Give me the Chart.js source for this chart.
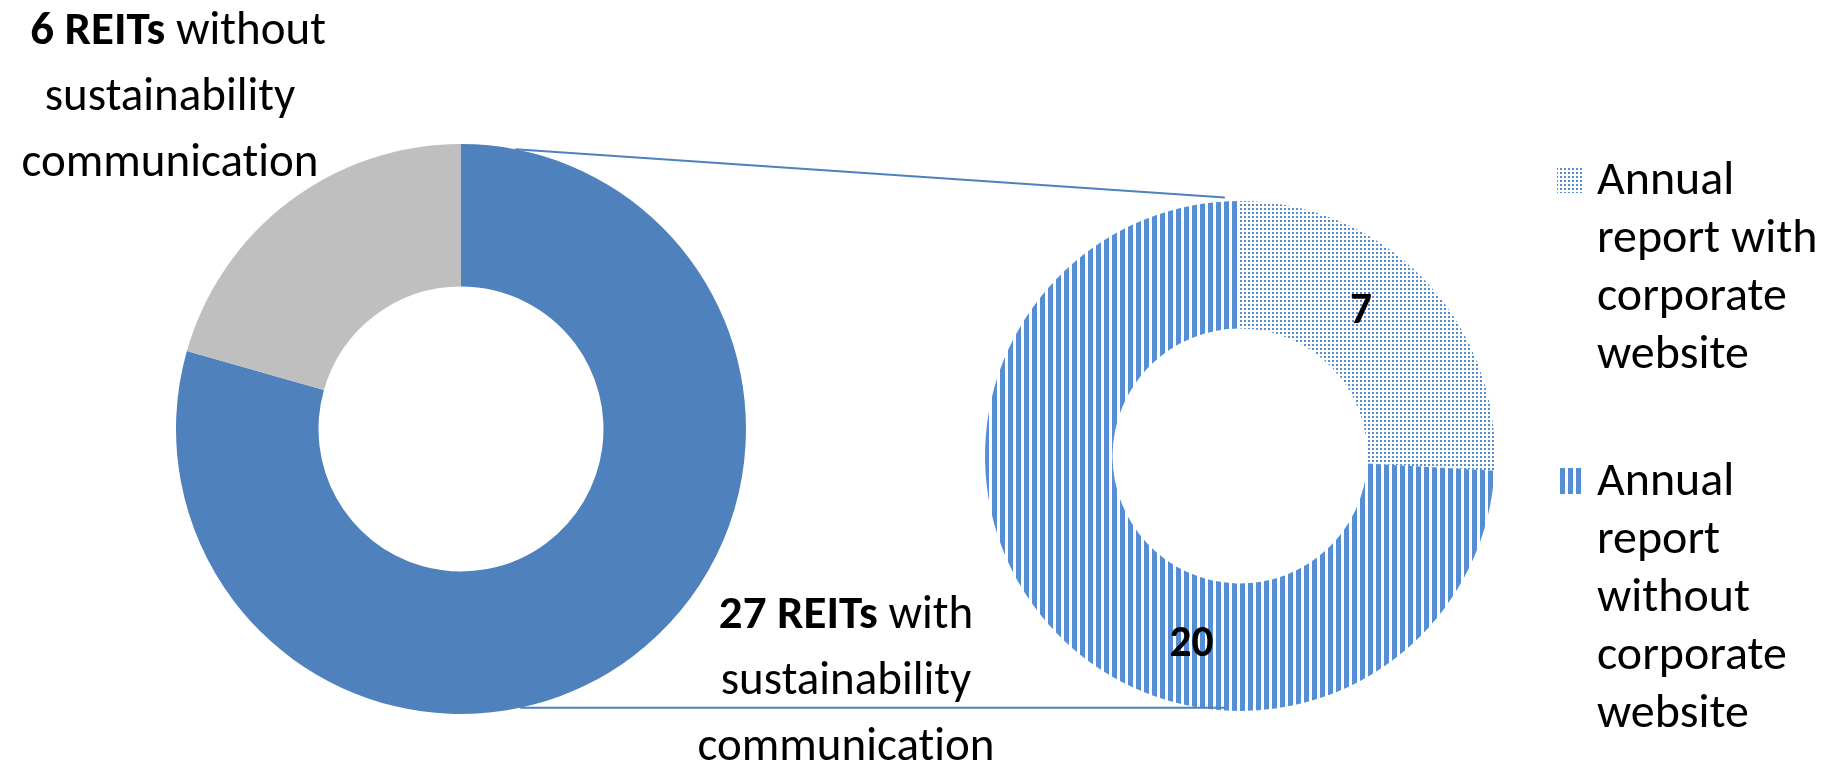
<!DOCTYPE html>
<html>
<head>
<meta charset="utf-8">
<script src="https://cdn.jsdelivr.net/npm/chart.js@4.4.1/dist/chart.umd.min.js"></script>
<style>
html,body{margin:0;padding:0;background:#ffffff;}
#wrap{position:relative;width:1832px;height:767px;overflow:hidden;}
#wrap canvas{position:absolute;left:0;top:0;}
</style>
</head>
<body>
<div id="wrap">
  <canvas id="overview" width="1832" height="767"></canvas>
  <canvas id="detail" width="1832" height="767"></canvas>
</div>
<script>
// ---------------- data ----------------
const overviewLabels = ['REITs with sustainability communication', 'REITs without sustainability communication'];
// slice sizes as drawn in the picture (grey slice spans ~74 degrees)
const overviewValues = [27, 7];
const overviewCalloutBold = ['27 REITs', '6 REITs'];
const overviewCalloutRest = [' with', ' without'];
const overviewCalloutLines = [['sustainability', 'communication'], ['sustainability', 'communication']];

const detailLabels = ['Annual report with corporate website', 'Annual report without corporate website'];
const detailValues = [7, 20];
const detailLegendLines = [
  ['Annual', 'report with', 'corporate', 'website'],
  ['Annual', 'report', 'without', 'corporate', 'website']
];

// ---------------- styling ----------------
const FAMILY = "Carlito, Calibri, Lato, 'Open Sans', sans-serif";
const BLUE = '#4F81BD';
const GREY = '#BFBFBF';
const PATTERN_BLUE = '#558ED5';

function noLig(s) { return s.replace(/t(?=i)/g, 't\u200C').replace(/f(?=[ilf])/g, 'f\u200C'); }

function makeDots() {
  const c = document.createElement('canvas'); c.width = 4; c.height = 4;
  const g = c.getContext('2d');
  g.fillStyle = '#ffffff'; g.fillRect(0, 0, 4, 4);
  g.fillStyle = PATTERN_BLUE; g.fillRect(0, 0, 2, 2);
  return g.createPattern(c, 'repeat');
}
function makeStripes() {
  const c = document.createElement('canvas'); c.width = 8; c.height = 8;
  const g = c.getContext('2d');
  g.fillStyle = '#ffffff'; g.fillRect(0, 0, 8, 8);
  g.fillStyle = PATTERN_BLUE; g.fillRect(0, 0, 5, 8);
  return g.createPattern(c, 'repeat');
}
const detailFills = [makeDots(), makeStripes()];

function fitSize(ctx, text, weight, target) {
  ctx.font = weight + ' 100px ' + FAMILY;
  return 100 * target / ctx.measureText(noLig(text)).width;
}

const baseOpts = {
  responsive: false,
  animation: false,
  events: [],
  cutout: '50%',
  plugins: { legend: { display: false }, tooltip: { enabled: false } }
};

const overviewChart = new Chart(document.getElementById('overview'), {
  type: 'doughnut',
  data: {
    labels: overviewLabels,
    datasets: [{ data: overviewValues, backgroundColor: [BLUE, GREY], borderWidth: 0 }]
  },
  options: Object.assign({}, baseOpts, {
    layout: { padding: { left: 176, right: 1086, top: 144, bottom: 53 } }
  })
});

const annotations = {
  id: 'annotations',
  afterDatasetsDraw(chart) {
    const ctx = chart.ctx;
    const ov = overviewChart.getDatasetMeta(0).data[0];
    const dt = chart.getDatasetMeta(0).data;
    const d0 = dt[0];
    ctx.save();

    // connector lines (overview outer edge -> detail doughnut)
    const ang = (deg) => deg * Math.PI / 180;
    const R1 = ov.outerRadius, R2 = d0.outerRadius;
    const p1 = [ov.x + R1 * Math.sin(ang(11)), ov.y - R1 * Math.cos(ang(11))];
    const p2 = [ov.x + R1 * Math.sin(ang(168)), ov.y - R1 * Math.cos(ang(168))];
    const q1 = [d0.x + R2 * Math.sin(ang(-3.4)), d0.y - R2 * Math.cos(ang(-3.4)) - 4];
    const q2 = [d0.x + R2 * Math.sin(ang(183.4)), p2[1]];
    ctx.strokeStyle = BLUE; ctx.lineWidth = 2;
    ctx.beginPath(); ctx.moveTo(p1[0], p1[1]); ctx.lineTo(q1[0], q1[1]); ctx.stroke();
    ctx.beginPath(); ctx.moveTo(p2[0], p2[1]); ctx.lineTo(q2[0], q2[1]); ctx.stroke();

    // data labels of the detail doughnut
    const valSize = fitSize(ctx, '20', 'bold', 44);
    ctx.font = 'bold ' + valSize + 'px ' + FAMILY;
    ctx.fillStyle = '#000';
    ctx.textAlign = 'center';
    ctx.textBaseline = 'alphabetic';
    const fracs = [0.42, 0.38];
    dt.forEach((arc, i) => {
      const a = arc.startAngle + fracs[i] * (arc.endAngle - arc.startAngle);
      const r = (arc.innerRadius + arc.outerRadius) / 2;
      const x = arc.x + r * Math.cos(a), y = arc.y + r * Math.sin(a);
      ctx.fillText(String(detailValues[i]), x, y + valSize * 0.34);
    });

    // overview callouts
    const txtSize = fitSize(ctx, 'communication', 'normal', 297);
    const lh = 66;
    const callPos = [[846, 628], [170, 44]];
    const firstShift = [0, 8];
    overviewValues.forEach((v, i) => {
      const cx = callPos[i][0]; const by = callPos[i][1];
      const b = noLig(overviewCalloutBold[i]), rs = noLig(overviewCalloutRest[i]);
      ctx.font = 'bold ' + txtSize + 'px ' + FAMILY;
      const wb = ctx.measureText(b).width;
      ctx.font = 'normal ' + txtSize + 'px ' + FAMILY;
      const wr = ctx.measureText(rs).width;
      const x0 = cx + firstShift[i] - (wb + wr) / 2;
      ctx.textAlign = 'left';
      ctx.font = 'bold ' + txtSize + 'px ' + FAMILY;
      ctx.fillText(b, x0, by);
      ctx.font = 'normal ' + txtSize + 'px ' + FAMILY;
      ctx.fillText(rs, x0 + wb, by);
      ctx.textAlign = 'center';
      overviewCalloutLines[i].forEach((ln, k) => {
        ctx.fillText(noLig(ln), cx, by + lh * (k + 1));
      });
    });

    // legend
    const legSize = fitSize(ctx, 'corporate', 'normal', 190);
    ctx.font = 'normal ' + legSize + 'px ' + FAMILY;
    ctx.textAlign = 'left';
    const legLH = 58, legGap = 69, mk = 26;
    let base = 194;
    detailLegendLines.forEach((lines, i) => {
      ctx.fillStyle = detailFills[i];
      ctx.fillRect(1557, base - 27, mk, mk);
      ctx.fillStyle = '#000';
      lines.forEach((ln, k) => ctx.fillText(noLig(ln), 1597, base + k * legLH));
      base += lines.length * legLH + legGap;
    });
    ctx.restore();
  }
};

const detailChart = new Chart(document.getElementById('detail'), {
  type: 'doughnut',
  data: {
    labels: detailLabels,
    datasets: [{ data: detailValues, backgroundColor: detailFills, borderWidth: 0 }]
  },
  options: Object.assign({}, baseOpts, {
    layout: { padding: { left: 985, right: 337, top: 201, bottom: 56 } }
  }),
  plugins: [annotations]
});
</script>
</body>
</html>
